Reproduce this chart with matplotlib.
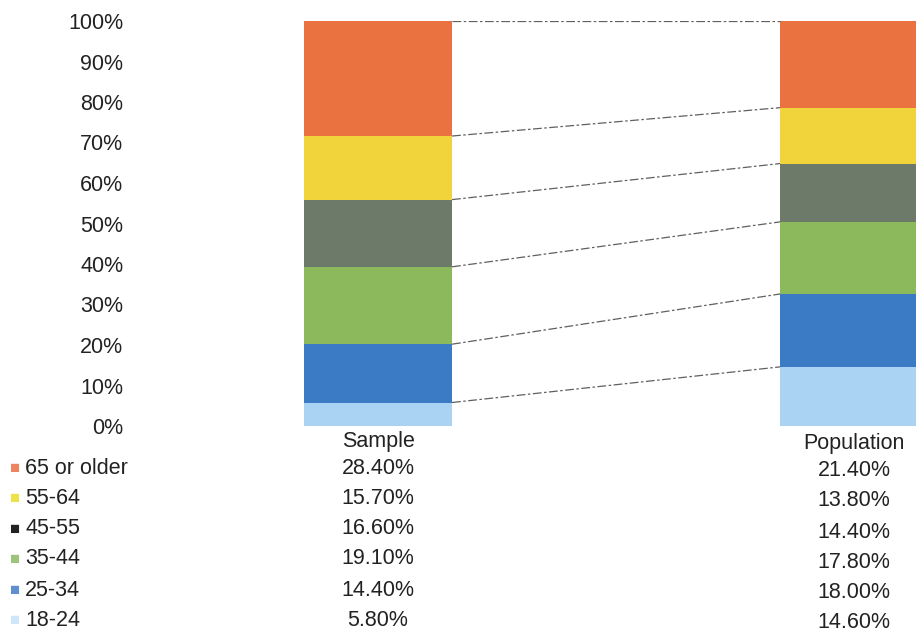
import numpy as np
import matplotlib.pyplot as plt
from matplotlib.transforms import blended_transform_factory

groups = ["Sample", "Population"]
age_bands = ["18-24", "25-34", "35-44", "45-55", "55-64", "65 or older"]
sample_pct = [5.8, 14.4, 19.1, 16.6, 15.7, 28.4]
population_pct = [14.6, 18.0, 17.8, 14.4, 13.8, 21.4]
band_colors = ["#a9d2f3", "#3b7bc6", "#8bb95c", "#6d7a6a", "#f1d43c", "#e97240"]
legend_colors = ["#cfe6f8", "#5f8fcf", "#9cc47a", "#222222", "#ece24a", "#ec8462"]

plt.rcParams['font.family'] = ['Liberation Sans', 'DejaVu Sans']
FS = 15.5

fig = plt.figure(figsize=(9.16, 6.35), dpi=100)
W, H = 916, 635
ax = fig.add_axes([140 / W, 1 - 426 / H, 776 / W, (426 - 21) / H])

x = np.arange(len(groups))
width = 0.311
values = np.array([sample_pct, population_pct])
bottoms = np.zeros(len(groups))
for i, band in enumerate(age_bands):
    ax.bar(x, values[:, i], width, bottom=bottoms, color=band_colors[i], label=band)
    tops = bottoms + values[:, i]
    # series lines between the two stacks
    ax.plot([x[0] + width / 2, x[1] - width / 2], [tops[0], tops[1]],
            color="#444444", lw=0.9, ls=(0, (7, 2, 2, 2)), alpha=0.85)
    bottoms = tops

ax.set_xlim(-0.5, 1.13)
ax.set_ylim(0, 100)
ax.set_yticks(np.arange(0, 101, 10))
ax.set_yticklabels([f"{v}%" for v in range(0, 101, 10)], fontsize=FS, color="#222222")
ax.tick_params(axis="y", length=0, pad=12)
ax.set_xticks([])
for s in ax.spines.values():
    s.set_visible(False)

# data table under the bars
trans = blended_transform_factory(ax.transData, fig.transFigure)
ax.text(x[0], 1 - 441 / H, groups[0], transform=trans, ha="center", va="center",
        fontsize=FS, color="#222222")
ax.text(x[1], 1 - 444 / H, groups[1], transform=trans, ha="center", va="center",
        fontsize=FS, color="#222222")
row_y = [620, 590, 559, 529, 498, 468]
for i, band in enumerate(age_bands):
    yy = 1 - row_y[i] / H
    fig.text(10 / W, yy, "\u25a0", color=legend_colors[i], fontsize=12, ha="left", va="center")
    fig.text(25 / W, yy, band, fontsize=FS, color="#222222", ha="left", va="center")
    ax.text(x[0], yy, f"{sample_pct[i]:.2f}%", transform=trans, ha="center", va="center",
            fontsize=FS, color="#222222")
    ax.text(x[1], yy - 3 / H, f"{population_pct[i]:.2f}%", transform=trans, ha="center",
            va="center", fontsize=FS, color="#222222")

fig.savefig("out.png", dpi=100)
